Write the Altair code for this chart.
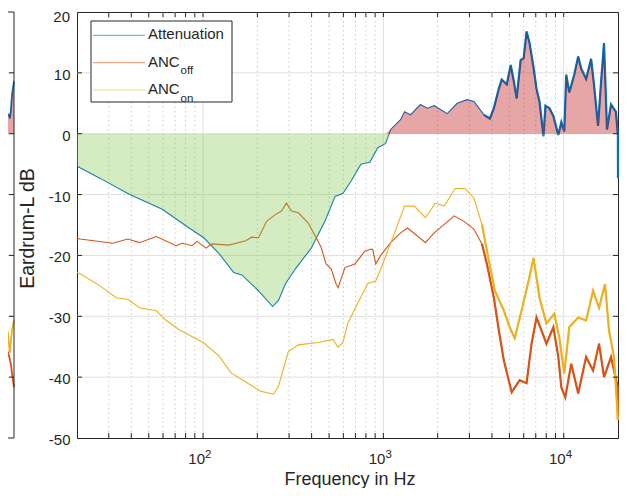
import altair as alt
import pandas as pd

# ---------------- data ----------------
# Attenuation (blue)
att_f = [20, 20.8, 26.8, 39.2, 59.5, 83.7, 101, 122, 148, 164, 203, 243, 262, 286, 325,
         398, 475, 540, 597, 661, 750, 841, 930, 1029, 1097, 1245, 1310, 1413, 1604,
         1753, 1914, 2259, 2565, 2911, 3181, 3610, 3895, 4097, 4366, 4534, 4831, 5082,
         5283, 5483, 5768, 5993, 6224, 6466, 6802, 7065, 7339, 7720, 7920, 8334, 8765,
         9335, 9700, 10070, 10330, 10735, 11438, 12030, 12500, 13310, 14190, 14740,
         15500, 16100, 16730, 17380, 18290, 19480, 19970, 20000]
att_db = [-5.3, -5.6, -7.3, -10.0, -12.4, -15.5, -17.1, -19.6, -22.8, -23.2, -25.8, -28.4,
          -27.4, -24.7, -22.2, -18.8, -14.3, -10.3, -9.8, -7.8, -5.0, -4.7, -2.3, -1.6,
          0.7, 2.3, 3.6, 3.1, 4.8, 4.2, 4.6, 3.3, 5.0, 5.6, 5.3, 3.1, 2.5, 4.2, 7.4, 8.9,
          8.1, 11.3, 8.7, 5.8, 12.1, 12.4, 16.8, 14.9, 10.9, 7.4, 5.3, -0.4, 4.6, 4.2,
          2.9, -0.2, 1.9, 0.4, 9.7, 6.8, 9.7, 12.7, 10.7, 9.0, 12.3, 7.9, 1.3, 8.4, 14.9,
          0.7, 4.8, 3.6, -0.2, -7.3]

# ANC off (orange)
off_f = [20, 20.8, 31.6, 38.2, 44.4, 55.1, 71.0, 76.6, 87.0, 92.7, 103.9, 112, 139, 172.5,
         186, 203, 225, 252, 272, 290, 309, 338, 383, 419, 452, 481, 513, 547, 561, 612,
         695, 789, 851, 873, 907, 966, 1097, 1245, 1361, 1544, 1710, 1914, 2175, 2469,
         2800, 3181, 3520, 3750, 4097, 4366, 4651, 5146, 5697, 6224, 6632, 7065, 7527,
         8018, 8765, 9335, 9700, 10200, 11010, 12030, 13310, 14550, 15700, 16730, 18290,
         19970, 20000]
off_db = [-17.2, -17.3, -18.0, -17.3, -17.9, -16.9, -18.4, -18.0, -18.4, -17.7, -18.8,
          -18.1, -18.3, -17.6, -17.0, -17.1, -14.4, -13.3, -12.7, -11.4, -12.7, -13.0,
          -14.7, -16.8, -18.7, -21.4, -22.2, -24.7, -25.3, -22.0, -21.4, -19.3, -19.0,
          -19.0, -21.4, -20.0, -17.9, -16.3, -15.5, -16.8, -17.9, -16.3, -14.9, -13.5,
          -14.4, -15.7, -18.1, -21.4, -26.9, -32.3, -37.2, -42.5, -40.5, -41.0, -34.5,
          -30.2, -32.3, -34.5, -31.8, -36.7, -41.7, -43.3, -37.8, -42.7, -36.7, -38.9,
          -34.5, -40.0, -36.7, -41.7, -47.0]

# ANC on (yellow)
on_f = [20, 20.8, 26.8, 33.2, 38.2, 44.4, 55.1, 62.6, 73.8, 101, 122.5, 143, 179, 208,
        246, 262, 297, 338, 435, 526, 561, 597, 636, 722, 820, 907, 991, 1154, 1310, 1486,
        1710, 1941, 2175, 2500, 2838, 3181, 3520, 3846, 4150, 4651, 5017, 5346, 5843,
        6384, 6802, 7339, 8018, 8870, 9458, 10070, 10735, 12030, 13310, 14550, 15700,
        16950, 17830, 19000, 19970]
on_db = [-22.8, -23.0, -25.0, -27.0, -27.2, -28.6, -29.1, -30.7, -32.2, -34.4, -36.5,
         -39.3, -41.1, -42.3, -42.8, -41.5, -35.8, -34.7, -34.3, -33.8, -35.1, -34.3,
         -31.1, -27.8, -24.6, -24.2, -21.4, -16.3, -11.9, -11.9, -13.8, -11.4, -11.9,
         -9.0, -9.0, -10.6, -14.9, -20.9, -25.8, -29.0, -31.8, -33.6, -29.0, -24.2,
         -20.4, -26.9, -31.2, -29.6, -33.5, -39.4, -31.8, -30.2, -30.7, -25.8, -28.6,
         -24.7, -32.3, -36.7, -47.0]

# cut-off neighbouring panel at the left edge (its high-frequency end)
lp_f = [16750, 17180, 17620, 18070, 18540, 18770, 19010, 19250, 19500, 19750, 20000]
lp_att = [11.8, 9.0, 5.0, 4.0, 3.0, 3.1, 2.5, 4.0, 6.4, 7.5, 8.6]
lp_off = [-32.9, -34.5, -35.6, -35.0, -36.0, -36.5, -37.2, -38.0, -39.4, -40.5, -41.7]
lp_on = [-25.8, -27.0, -28.0, -31.0, -32.9, -34.5, -36.0, -34.0, -32.3, -31.5, -30.7]

major_x = [100, 1000, 10000]
minor_x = [30, 40, 50, 60, 70, 80, 90, 200, 300, 400, 500, 600, 700, 800, 900,
           2000, 3000, 4000, 5000, 6000, 7000, 8000, 9000]
y_ticks = [-50, -40, -30, -20, -10, 0, 10]
y_top_tick = [20]
y_grid = [-40, -30, -20, -10, 0, 10]
decade_labels = ["10", "10", "10"]
decade_sup = ["2", "3", "4"]

# ---------------- styling ----------------
FONT = "Liberation Sans"
DARK = "#262626"
BLUE, ORANGE, YELLOW = "#0072BD", "#D95319", "#EDB120"
W, H = 541, 426
NOISY = 3500  # above this frequency the measured curves are drawn as a wider band

XS = alt.Scale(type="log", domain=[20, 20000], nice=False)
YS = alt.Scale(domain=[-50, 20], nice=False, zero=False)
XAX = alt.Axis(labels=False, ticks=False, tickSize=0, domain=False, grid=False,
               title="Frequency in Hz", titleFont=FONT, titleFontSize=18,
               titleFontWeight="normal", titleColor=DARK, titleX=W / 2 + 2, titleY=46.2,
               titleBaseline="alphabetic", titleAlign="center")
YAX = alt.Axis(values=y_ticks, ticks=False, tickSize=0, domain=False, grid=False,
               labelFont=FONT, labelFontSize=15, labelColor=DARK, labelPadding=7,
               labelOffset=1.5, labelExpr="'' + datum.value",
               title="Eardrum-L dB", titleFont=FONT, titleFontSize=19.5,
               titleFontWeight="normal", titleColor=DARK, titleX=-44, titleY=216,
               titleAngle=270, titleBaseline="alphabetic", titleAlign="center")


def X(field):
    return alt.X(field, type="quantitative", scale=XS, axis=XAX)


def Y(field):
    return alt.Y(field, type="quantitative", scale=YS, axis=YAX)


att = pd.DataFrame({"f": att_f, "db": att_db})
off = pd.DataFrame({"f": off_f, "db": off_db})
on = pd.DataFrame({"f": on_f, "db": on_db})

grid_major = alt.Chart(pd.DataFrame({"gx": major_x})).mark_rule(
    color="#DFDFDF", strokeWidth=1).encode(x=X("gx"))
grid_minor = alt.Chart(pd.DataFrame({"gx": minor_x})).mark_rule(
    color="#CACACA", strokeWidth=1, strokeDash=[1.5, 3]).encode(x=X("gx"))
grid_y = alt.Chart(pd.DataFrame({"gy": y_grid})).mark_rule(
    color="#DFDFDF", strokeWidth=1).encode(y=Y("gy"))

all_x_ticks = pd.DataFrame({"tx": sorted(major_x + minor_x)})
tick_bottom = alt.Chart(all_x_ticks).mark_rule(color=DARK, strokeWidth=1).encode(
    x=X("tx"), y=alt.value(H), y2=alt.value(H - 5))
tick_top = alt.Chart(all_x_ticks).mark_rule(color=DARK, strokeWidth=1).encode(
    x=X("tx"), y=alt.value(0), y2=alt.value(5))
yt = pd.DataFrame({"ty": y_grid})
tick_left = alt.Chart(yt).mark_rule(color=DARK, strokeWidth=1).encode(
    y=Y("ty"), x=alt.value(0), x2=alt.value(5))
tick_right = alt.Chart(yt).mark_rule(color=DARK, strokeWidth=1).encode(
    y=Y("ty"), x=alt.value(W), x2=alt.value(W - 5))

# the top tick label, nudged down a little so that it stays inside the page
top_label = alt.Chart(pd.DataFrame({"ty": y_top_tick})).mark_text(
    font=FONT, fontSize=15, color=DARK, align="right", baseline="middle",
    dx=-7, dy=4.5).encode(y=Y("ty"), x=alt.value(0), text="ty:N")


def curve(df, col):
    thin = alt.Chart(df).mark_line(color=col, strokeWidth=1.1).encode(x=X("f"), y=Y("db"))
    wide = alt.Chart(df).transform_filter(f"datum.f >= {NOISY}").mark_line(
        color=col, strokeWidth=2.2).encode(x=X("f"), y=Y("db"))
    return [thin, wide]


curves = curve(att, BLUE) + curve(off, ORANGE) + curve(on, YELLOW)

fill_neg = alt.Chart(att).transform_calculate(
    lo="min(datum.db, 0)", zero="0").mark_area(
    color="#80C84D", opacity=0.35, strokeWidth=0).encode(
    x=X("f"), y=Y("lo"), y2="zero:Q")
fill_pos = alt.Chart(att).transform_calculate(
    hi="max(datum.db, 0)", zero="0").mark_area(
    color="#BB0000", opacity=0.35, strokeWidth=0).encode(
    x=X("f"), y=Y("hi"), y2="zero:Q")

dec = pd.DataFrame({"d": major_x, "t": decade_labels, "s": decade_sup})
lab_10 = alt.Chart(dec).mark_text(font=FONT, fontSize=15, color=DARK, align="right",
                                  baseline="alphabetic", dx=2).encode(
    x=X("d"), y=alt.value(H + 25.8), text="t:N")
lab_sup = alt.Chart(dec).mark_text(font=FONT, fontSize=11.5, color=DARK, align="left",
                                   baseline="alphabetic", dx=2).encode(
    x=X("d"), y=alt.value(H + 20), text="s:N")

# legend (drawn by hand so that the subscripts can be kept)
one = pd.DataFrame({"k": [0]})
leg_box = alt.Chart(one).mark_rect(fill="white", stroke=DARK, strokeWidth=1).encode(
    x=alt.value(14), x2=alt.value(155), y=alt.value(9), y2=alt.value(90))
leg_layers = [leg_box]
leg_names = ["Attenuation", "ANC", "ANC"]
leg_subs = ["", "off", "on"]
leg_cols = [BLUE, ORANGE, YELLOW]
for i, (nm, sb, col) in enumerate(zip(leg_names, leg_subs, leg_cols)):
    base_y = 27.3 + i * 27.35
    leg_layers.append(alt.Chart(one).mark_rule(color=col, strokeWidth=1.2, opacity=0.5).encode(
        x=alt.value(16), x2=alt.value(68), y=alt.value(base_y - 4), y2=alt.value(base_y - 4)))
    leg_layers.append(alt.Chart(one).mark_text(font=FONT, fontSize=15, color=DARK, align="left",
                                               baseline="alphabetic", text=nm).encode(
        x=alt.value(71), y=alt.value(base_y)))
    if sb:
        leg_layers.append(alt.Chart(one).mark_text(font=FONT, fontSize=11.5, color=DARK,
                                                   align="left", baseline="alphabetic",
                                                   text=sb).encode(
            x=alt.value(103.5), y=alt.value(base_y + 7.5)))

main = alt.layer(grid_major, grid_minor, grid_y, *curves, fill_neg, fill_pos,
                 tick_bottom, tick_top, tick_left, tick_right, top_label,
                 lab_10, lab_sup, *leg_layers)

# ---- neighbouring panel, only its right edge is inside the picture ----
LXS = alt.Scale(type="log", domain=[16750, 20000], range=[-77, -63], nice=False)
lp = pd.DataFrame({"lf": lp_f, "a": lp_att, "o": lp_off, "n": lp_on})


def LX():
    return alt.X("lf", type="quantitative", scale=LXS, axis=None)


lp_grid = alt.Chart(pd.DataFrame({"gy": y_grid})).mark_rule(color="#DFDFDF").encode(
    y=Y("gy"), x=alt.value(-77), x2=alt.value(-63))
lp_ticks = alt.Chart(pd.DataFrame({"gy": y_grid})).mark_rule(color=DARK).encode(
    y=Y("gy"), x=alt.value(-68), x2=alt.value(-63))
lp_frame = alt.Chart(one).mark_rule(color=DARK).encode(
    x=alt.value(-63), y=alt.value(0), y2=alt.value(H))
lp_top = alt.Chart(one).mark_rule(color=DARK).encode(
    x=alt.value(-77), x2=alt.value(-63), y=alt.value(0), y2=alt.value(0))
lp_bot = alt.Chart(one).mark_rule(color=DARK).encode(
    x=alt.value(-77), x2=alt.value(-63), y=alt.value(H), y2=alt.value(H))
lp_on_l = alt.Chart(lp).mark_line(color=YELLOW, strokeWidth=1.8).encode(x=LX(), y=Y("n"))
lp_off_l = alt.Chart(lp).mark_line(color=ORANGE, strokeWidth=1.8).encode(x=LX(), y=Y("o"))
lp_att_l = alt.Chart(lp).mark_line(color=BLUE, strokeWidth=1.8).encode(x=LX(), y=Y("a"))
lp_fill = alt.Chart(lp).transform_calculate(zero="0").mark_area(
    color="#BB0000", opacity=0.35).encode(x=LX(), y=Y("a"), y2="zero:Q")

left = alt.layer(lp_grid, lp_on_l, lp_off_l, lp_att_l, lp_fill, lp_ticks,
                 lp_frame, lp_top, lp_bot)

chart = alt.layer(main, left).resolve_scale(x="independent").properties(
    width=W, height=H,
    autosize=alt.AutoSizeParams(type="none"),
    padding={"left": 69, "top": 4, "right": 1, "bottom": 50},
    background="white",
).configure_view(stroke=DARK, strokeWidth=1)

chart.save("out.html", embed_options={"renderer": "svg", "actions": False})
